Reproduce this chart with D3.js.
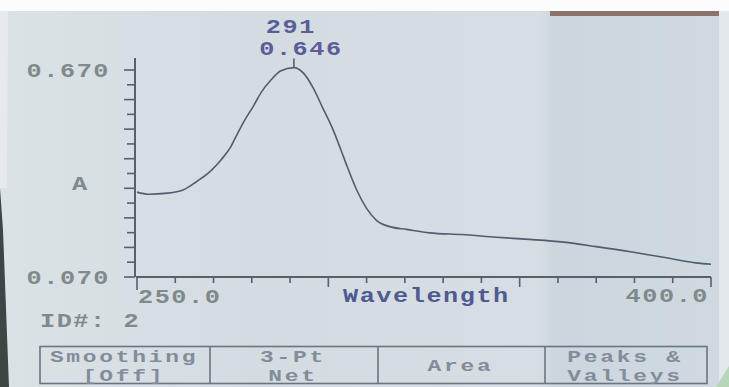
<!DOCTYPE html>
<html>
<head>
<meta charset="utf-8">
<script src="https://cdn.jsdelivr.net/npm/d3@7"></script>
<style>
  html, body { margin: 0; padding: 0; background: #fff; }
  svg { display: block; }
  text { font-family: "Liberation Mono", "DejaVu Sans Mono", monospace; font-size: 21px; font-weight: bold; letter-spacing: 1.3px; }
  .key { font-size: 17px; letter-spacing: 2px; }
</style>
</head>
<body>
<div id="chart"></div>
<script>
// scan: wavelength (nm) and absorbance
const wavelength = [250, 253, 258, 262, 265.5, 269.5, 272, 274.5, 276, 278, 280.5, 282.5, 285, 287.5, 291,
  293.5, 296, 298.5, 301, 303, 305, 307.5, 310, 312.5, 316, 320.5, 326.5, 335, 344, 352.5, 361.5, 370, 379, 387.5, 396, 400];
const absorbance = [0.316, 0.310, 0.313, 0.322, 0.346, 0.380, 0.410, 0.447, 0.480, 0.522, 0.567, 0.606, 0.641, 0.667, 0.677,
  0.661, 0.619, 0.561, 0.503, 0.447, 0.388, 0.320, 0.269, 0.235, 0.216, 0.208, 0.198, 0.193, 0.185, 0.179, 0.171, 0.158, 0.143, 0.127, 0.111, 0.107];

const yLabels = [0.670, 0.070];
const xLabels = [250, 400];
const peakWl = 291;
const peakAbs = 0.646;
const buttons = [['Smoothing', '[Off]'], ['3-Pt', 'Net'], ['Area'], ['Peaks &', 'Valleys']];

const W = 729, H = 387;
const axisCol = '#57606c', greyText = '#7f8a8b', blueText = '#4f5a92';

const svg = d3.select('#chart').append('svg')
  .attr('width', W).attr('height', H);

// wide LCD-style glyphs: stretch the mono font horizontally
function label(g, x, y, txt, anchor, fill, sx = 1.2, cls = null) {
  return g.append('text')
    .attr('class', cls)
    .attr('transform', `translate(${x},${y}) scale(${sx},1)`)
    .attr('text-anchor', anchor)
    .attr('fill', fill)
    .text(txt);
}

const defs = svg.append('defs');
const grad = defs.append('linearGradient').attr('id', 'bg').attr('x1', 0).attr('x2', 1).attr('y1', 0).attr('y2', 0);
grad.append('stop').attr('offset', '0').attr('stop-color', '#dbe2e6');
grad.append('stop').attr('offset', '0.35').attr('stop-color', '#d4dce2');
grad.append('stop').attr('offset', '0.74').attr('stop-color', '#d6dee3');
grad.append('stop').attr('offset', '0.76').attr('stop-color', '#ccd6de');
grad.append('stop').attr('offset', '1').attr('stop-color', '#d0d9df');

// screen and surroundings
svg.append('rect').attr('width', W).attr('height', H).attr('fill', 'url(#bg)');
svg.append('rect').attr('width', W).attr('height', 11).attr('fill', '#fcfcfc');
svg.append('rect').attr('x', 550).attr('y', 11).attr('width', 172).attr('height', 5).attr('fill', '#8c726d');
svg.append('rect').attr('x', 719).attr('y', 11).attr('width', 10).attr('height', H - 11).attr('fill', '#e2e8eb');
svg.append('path').attr('d', 'M0,11L8,11L7,188L0,188Z').attr('fill', '#e6eaec');
svg.append('path').attr('d', 'M0,188L3,230L9,387L0,387Z').attr('fill', '#3b4645');
svg.append('path').attr('d', 'M716,387L729,366L729,387Z').attr('fill', '#b5d6b8');

const x = d3.scaleLinear().domain([250, 400]).range([137, 711]);
const y = d3.scaleLinear().domain([0.070, 0.670]).range([277, 70]);

// y axis
svg.append('line').attr('x1', 135).attr('x2', 135).attr('y1', 58).attr('y2', 277)
  .attr('stroke', axisCol).attr('stroke-width', 2);
const yTicks = d3.range(15).map(i => 0.070 + i * 0.6 / 14);
svg.append('g').selectAll('line').data(yTicks).join('line')
  .attr('x1', (d, i) => i % 2 === 0 ? 124 : 127).attr('x2', 135)
  .attr('y1', d => y(d)).attr('y2', d => y(d))
  .attr('stroke', axisCol).attr('stroke-width', 1.6);

// x axis
svg.append('line').attr('x1', 136).attr('x2', 711).attr('y1', 277).attr('y2', 277)
  .attr('stroke', axisCol).attr('stroke-width', 2);
const xTicks = d3.range(250, 401, 10);
svg.append('g').selectAll('line').data(xTicks).join('line')
  .attr('x1', d => x(d)).attr('x2', d => x(d))
  .attr('y1', 277).attr('y2', d => (d === 250 ? 290 : d % 50 === 0 ? 287 : 283))
  .attr('stroke', axisCol).attr('stroke-width', 1.6);

// tick labels
const labels = svg.append('g');
yLabels.forEach(v => label(labels, 110, y(v) + 6.5, d3.format('.3f')(v), 'end', greyText));
label(labels, 72, 190, 'A', 'start', greyText);
label(labels, x(xLabels[0]) + 1, 303, d3.format('.1f')(xLabels[0]), 'start', greyText);
label(labels, x(xLabels[1]) - 2, 302, d3.format('.1f')(xLabels[1]), 'end', greyText);
label(labels, 343, 302, 'Wavelength', 'start', blueText);
label(labels, 40, 327, 'ID#: 2', 'start', greyText);

// spectrum
const line = d3.line()
  .x((d, i) => x(wavelength[i]))
  .y(d => y(d))
  .curve(d3.curveMonotoneX);
svg.append('path').datum(absorbance)
  .attr('fill', 'none').attr('stroke', '#525c70').attr('stroke-width', 1.6)
  .attr('d', line);

// peak marker
const peakTop = y(d3.max(absorbance));
svg.append('line').attr('x1', x(peakWl)).attr('x2', x(peakWl))
  .attr('y1', peakTop - 9).attr('y2', peakTop)
  .attr('stroke', axisCol).attr('stroke-width', 1.6);
label(labels, x(peakWl) - 3, 33, peakWl, 'middle', '#5a5d98');
label(labels, x(peakWl) + 7, 55, d3.format('.3f')(peakAbs), 'middle', '#5a5d98');

// soft-key row
const edges = [40, 210, 378, 545, 707];
const keys = svg.append('g');
keys.append('rect').attr('x', 40).attr('y', 346.5).attr('width', 667).attr('height', 37)
  .attr('fill', 'none').attr('stroke', '#6c7480').attr('stroke-width', 1.6);
keys.selectAll('line').data(edges.slice(1, -1)).join('line')
  .attr('x1', d => d).attr('x2', d => d).attr('y1', 346.5).attr('y2', 383.5)
  .attr('stroke', '#6c7480').attr('stroke-width', 1.6);
buttons.forEach((lines, i) => {
  const cx = (edges[i] + edges[i + 1]) / 2;
  const base = lines.length === 1 ? [371] : [361.5, 381];
  lines.forEach((t, j) => label(keys, cx - 1, base[j], t, 'middle', '#838c9a', 1.35, 'key'));
});
</script>
</body>
</html>
